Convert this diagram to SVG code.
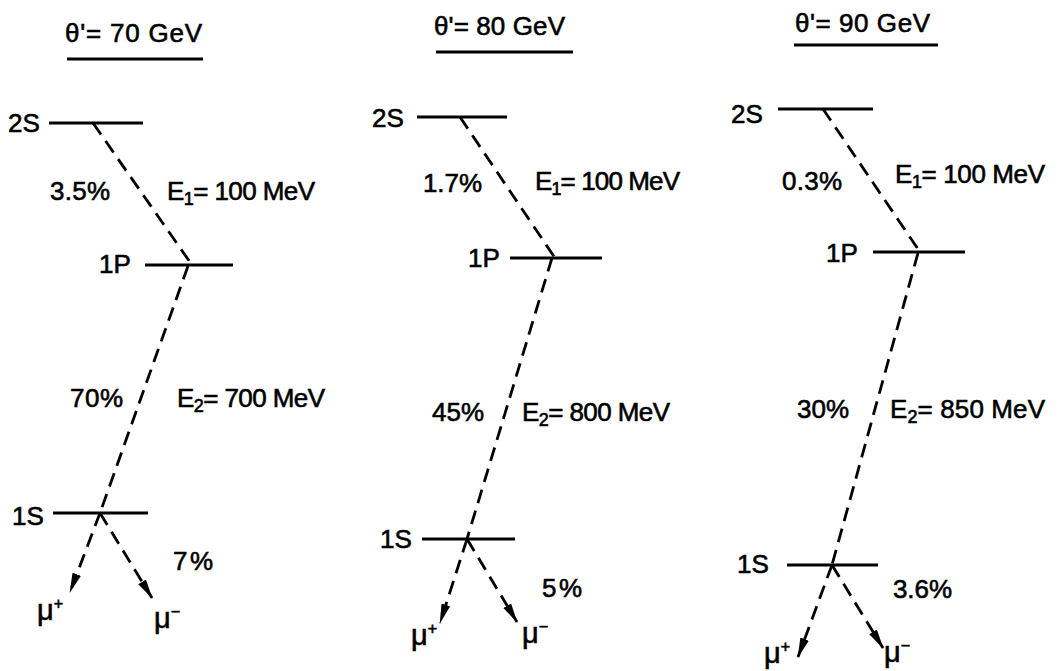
<svg xmlns="http://www.w3.org/2000/svg" width="1062" height="671" viewBox="0 0 1062 671">
<defs>
<style>
text{font-family:"Liberation Sans","DejaVu Sans",sans-serif;font-size:26px;fill:#000;stroke:#000;stroke-width:0.6}
.lvl{stroke:#000;stroke-width:3;fill:none}
.ul{stroke:#000;stroke-width:3.2;fill:none}
.dash{stroke:#000;stroke-width:2.8;fill:none;stroke-dasharray:14 8}
.sub{font-size:18px}
.mu{font-size:29px}
.sup{font-size:16px}
</style>
<marker id="ah" markerUnits="userSpaceOnUse" markerWidth="20" markerHeight="12" refX="19" refY="6" orient="auto">
<path d="M0,1.5 L20,6 L0,10.5 Z" fill="#000"/>
</marker>
</defs>
<rect width="1062" height="671" fill="#fff"/>

<g id="panel1">
<g id="title1"><text x="65" y="42" textLength="137" lengthAdjust="spacing">θ'= 70 GeV</text><line class="ul" x1="67" y1="59" x2="203" y2="59"/></g>
<g id="lvl2S-1"><text x="8" y="132">2S</text><line class="lvl" x1="49" y1="123" x2="143" y2="123"/></g>
<g id="lvl1P-1"><text x="99" y="273">1P</text><line class="lvl" x1="145" y1="265" x2="233" y2="265"/></g>
<g id="lvl1S-1"><text x="12" y="525">1S</text><line class="lvl" x1="53" y1="513" x2="148" y2="513"/></g>
<text x="50" y="200" textLength="60">3.5%</text>
<text x="167" y="200" textLength="148">E<tspan class="sub" dy="5">1</tspan><tspan dy="-5">= 100 MeV</tspan></text>
<text x="70" y="407" textLength="53">70%</text>
<text x="177" y="407" textLength="148">E<tspan class="sub" dy="5">2</tspan><tspan dy="-5">= 700 MeV</tspan></text>
<text x="173" y="570" textLength="40">7%</text>
<text class="mu" x="37" y="620">μ<tspan class="sup" dy="-11">+</tspan></text>
<text class="mu" x="154" y="628">μ<tspan class="sup" dy="-11">−</tspan></text>
</g>

<g id="panel2">
<g id="title2"><text x="434" y="35" textLength="131" lengthAdjust="spacing">θ'= 80 GeV</text><line class="ul" x1="436" y1="52" x2="573" y2="52"/></g>
<g id="lvl2S-2"><text x="372" y="127">2S</text><line class="lvl" x1="417" y1="117" x2="507" y2="117"/></g>
<g id="lvl1P-2"><text x="468" y="267">1P</text><line class="lvl" x1="510" y1="258" x2="602" y2="258"/></g>
<g id="lvl1S-2"><text x="380" y="548">1S</text><line class="lvl" x1="422" y1="539" x2="515" y2="539"/></g>
<text x="423" y="192" textLength="59">1.7%</text>
<text x="535" y="190" textLength="145">E<tspan class="sub" dy="5">1</tspan><tspan dy="-5">= 100 MeV</tspan></text>
<text x="432" y="421" textLength="52">45%</text>
<text x="522" y="421" textLength="148">E<tspan class="sub" dy="5">2</tspan><tspan dy="-5">= 800 MeV</tspan></text>
<text x="542" y="597" textLength="40">5%</text>
<text class="mu" x="411" y="645">μ<tspan class="sup" dy="-11">+</tspan></text>
<text class="mu" x="522" y="643">μ<tspan class="sup" dy="-11">−</tspan></text>
</g>

<g id="panel3">
<g id="title3"><text x="795" y="32" textLength="135" lengthAdjust="spacing">θ'= 90 GeV</text><line class="ul" x1="794" y1="45" x2="938" y2="45"/></g>
<g id="lvl2S-3"><text x="731" y="123">2S</text><line class="lvl" x1="778" y1="109" x2="873" y2="109"/></g>
<g id="lvl1P-3"><text x="826" y="262">1P</text><line class="lvl" x1="873" y1="252" x2="965" y2="252"/></g>
<g id="lvl1S-3"><text x="737" y="573">1S</text><line class="lvl" x1="787" y1="565" x2="878" y2="565"/></g>
<text x="782" y="190" textLength="60">0.3%</text>
<text x="895" y="183" textLength="150">E<tspan class="sub" dy="5">1</tspan><tspan dy="-5">= 100 MeV</tspan></text>
<text x="797" y="418" textLength="52">30%</text>
<text x="890" y="418" textLength="155">E<tspan class="sub" dy="5">2</tspan><tspan dy="-5">= 850 MeV</tspan></text>
<text x="893" y="598" textLength="59">3.6%</text>
<text class="mu" x="764" y="663">μ<tspan class="sup" dy="-11">+</tspan></text>
<text class="mu" x="884" y="662">μ<tspan class="sup" dy="-11">−</tspan></text>
</g>

<g id="connectors">
<line class="dash" x1="93" y1="123" x2="192" y2="265"/>
<line class="dash" x1="188" y1="266" x2="100" y2="513"/>
<line class="dash" x1="100" y1="513" x2="70" y2="592" marker-end="url(#ah)"/>
<line class="dash" x1="100" y1="513" x2="152" y2="598" marker-end="url(#ah)"/>
<line class="dash" x1="460" y1="117" x2="555" y2="258"/>
<line class="dash" x1="552" y1="258" x2="467" y2="539"/>
<line class="dash" x1="467" y1="539" x2="440" y2="623" marker-end="url(#ah)"/>
<line class="dash" x1="467" y1="539" x2="517" y2="622" marker-end="url(#ah)"/>
<line class="dash" x1="823" y1="109" x2="920" y2="252"/>
<line class="dash" x1="918" y1="253" x2="832" y2="565"/>
<line class="dash" x1="832" y1="565" x2="798" y2="657" marker-end="url(#ah)"/>
<line class="dash" x1="832" y1="565" x2="883" y2="648" marker-end="url(#ah)"/>
</g>
</svg>
